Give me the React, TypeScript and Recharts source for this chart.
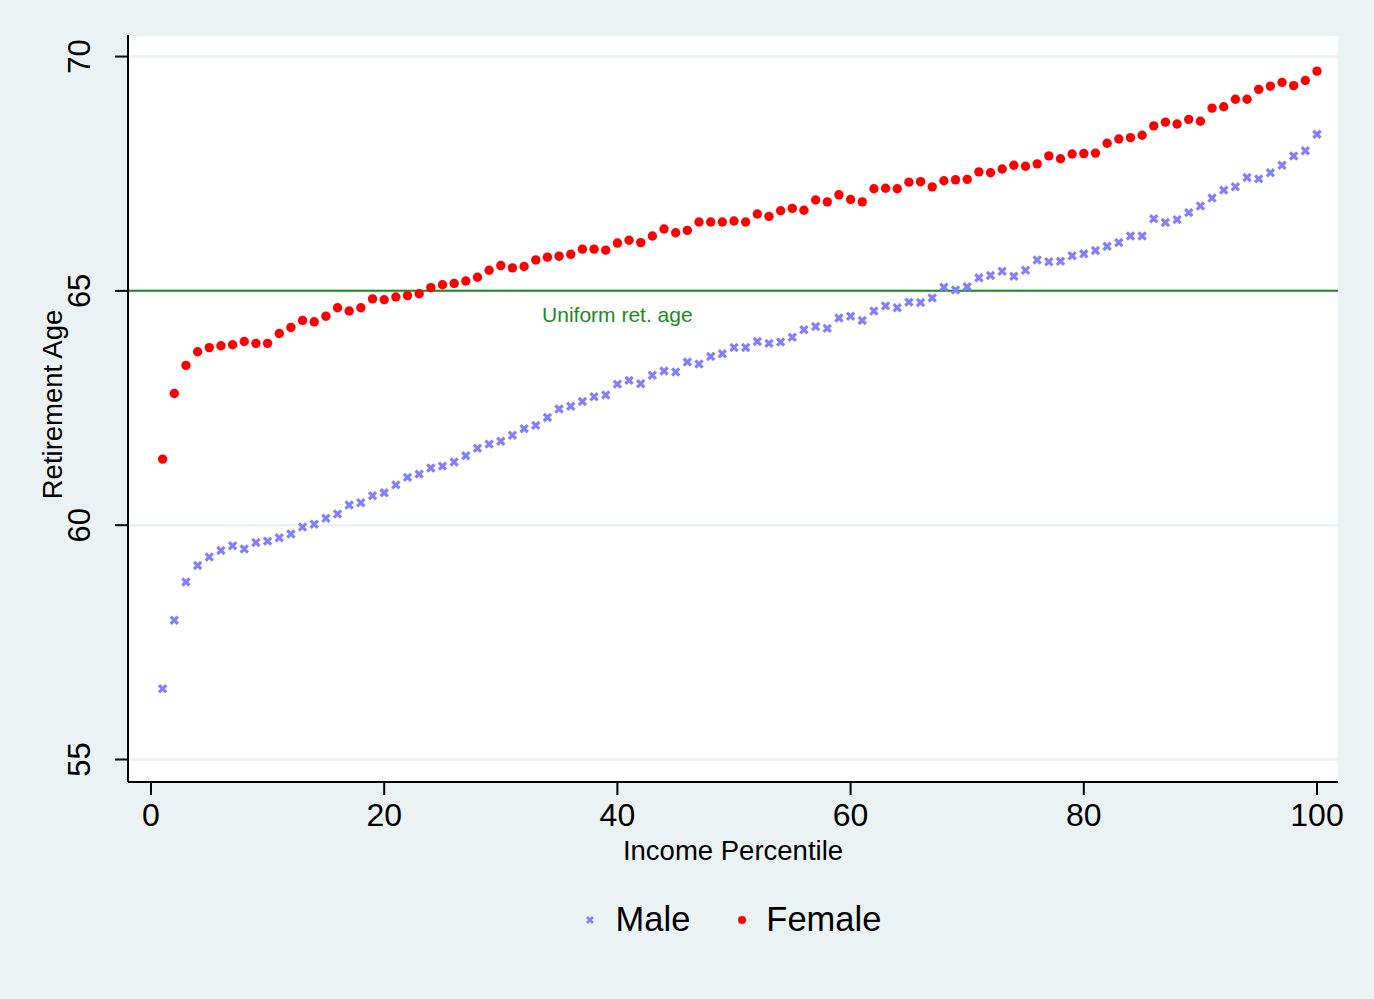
import {
  ScatterChart,
  Scatter,
  XAxis,
  YAxis,
  CartesianGrid,
  ReferenceLine,
  ReferenceDot,
  Label,
} from "recharts";

const FONT = '"Liberation Sans", Arial, Helvetica, sans-serif';
const BG = "#eaf2f3";
const MALE_COLOR = "#8080ff";
const FEMALE_COLOR = "#ff0000";
const LINE_GREEN = "#1a8a1a";

const percentiles = [
  1, 2, 3, 4, 5, 6, 7, 8, 9, 10, 11, 12, 13, 14, 15, 16, 17, 18, 19, 20,
  21, 22, 23, 24, 25, 26, 27, 28, 29, 30, 31, 32, 33, 34, 35, 36, 37, 38, 39, 40,
  41, 42, 43, 44, 45, 46, 47, 48, 49, 50, 51, 52, 53, 54, 55, 56, 57, 58, 59, 60,
  61, 62, 63, 64, 65, 66, 67, 68, 69, 70, 71, 72, 73, 74, 75, 76, 77, 78, 79, 80,
  81, 82, 83, 84, 85, 86, 87, 88, 89, 90, 91, 92, 93, 94, 95, 96, 97, 98, 99, 100,
];

const maleAge = [
  56.51, 57.97, 58.79, 59.14, 59.32, 59.46, 59.56, 59.49, 59.63, 59.66,
  59.73, 59.81, 59.96, 60.02, 60.15, 60.24, 60.43, 60.48, 60.63, 60.69,
  60.86, 61.02, 61.09, 61.22, 61.26, 61.35, 61.48, 61.64, 61.73, 61.79,
  61.92, 62.06, 62.13, 62.3, 62.48, 62.54, 62.64, 62.74, 62.78, 63.01,
  63.09, 63.02, 63.2, 63.29, 63.27, 63.48, 63.44, 63.6, 63.66, 63.79,
  63.79, 63.92, 63.88, 63.91, 64.01, 64.17, 64.24, 64.2, 64.42, 64.46,
  64.37, 64.57, 64.68, 64.64, 64.76, 64.75, 64.85, 65.08, 65.02, 65.09,
  65.28, 65.33, 65.42, 65.31, 65.44, 65.66, 65.62, 65.63, 65.75, 65.79,
  65.86, 65.95, 66.03, 66.17, 66.17, 66.54, 66.46, 66.52, 66.67, 66.81,
  66.98, 67.15, 67.22, 67.42, 67.39, 67.52, 67.68, 67.88, 67.99, 68.34,
];

const femaleAge = [
  61.41, 62.81, 63.41, 63.7, 63.79, 63.83, 63.85, 63.92, 63.88, 63.88,
  64.09, 64.22, 64.37, 64.34, 64.46, 64.64, 64.57, 64.64, 64.83, 64.81,
  64.87, 64.9, 64.94, 65.07, 65.13, 65.16, 65.21, 65.29, 65.44, 65.54,
  65.49, 65.52, 65.66, 65.72, 65.74, 65.78, 65.89, 65.89, 65.87, 66.02,
  66.08, 66.03, 66.17, 66.32, 66.24, 66.29, 66.47, 66.47, 66.47, 66.49,
  66.47, 66.64, 66.59, 66.71, 66.76, 66.72, 66.94, 66.9, 67.05, 66.95,
  66.9, 67.18, 67.19, 67.18, 67.32, 67.33, 67.22, 67.35, 67.37, 67.38,
  67.54, 67.52, 67.6, 67.68, 67.66, 67.71, 67.88, 67.82, 67.92, 67.93,
  67.94, 68.15, 68.24, 68.27, 68.32, 68.52, 68.6, 68.56, 68.66, 68.62,
  68.9, 68.93, 69.09, 69.09, 69.3, 69.37, 69.45, 69.38, 69.49, 69.69,
];

const xTicks = [0, 20, 40, 60, 80, 100];
const yTicks = [55, 60, 65, 70];
const uniformAge = 65;

const maleData = percentiles.map((p, i) => ({ x: p, y: maleAge[i] }));
const femaleData = percentiles.map((p, i) => ({ x: p, y: femaleAge[i] }));

function CrossShape(props: any) {
  const { cx, cy } = props;
  const d = 3.6;
  return (
    <path
      d={`M${cx - d},${cy - d}L${cx + d},${cy + d}M${cx + d},${cy - d}L${cx - d},${cy + d}`}
      stroke={MALE_COLOR}
      strokeWidth={3.2}
      fill="none"
    />
  );
}

function DotShape(props: any) {
  const { cx, cy } = props;
  return <circle cx={cx} cy={cy} r={4.7} fill={FEMALE_COLOR} />;
}

function YTick(props: any) {
  const { x, y, payload } = props;
  return (
    <text
      x={x}
      y={y}
      transform={`rotate(-90 ${x} ${y})`}
      textAnchor="middle"
      fontSize={31}
      fontFamily={FONT}
      fill="#000"
    >
      {payload.value}
    </text>
  );
}

function YTitle(props: any) {
  const { viewBox } = props;
  const x = viewBox.x + 62;
  const y = viewBox.y + viewBox.height / 2 - 4;
  return (
    <text
      x={x}
      y={y}
      transform={`rotate(-90 ${x} ${y})`}
      textAnchor="middle"
      fontSize={27.5}
      fontFamily={FONT}
      fill="#000"
    >
      Retirement Age
    </text>
  );
}

export default function App() {
  return (
    <div
      style={{
        position: "absolute",
        left: 0,
        top: 0,
        width: 1374,
        height: 999,
        background: BG,
        fontFamily: FONT,
      }}
    >
      <ScatterChart
        width={1374}
        height={999}
        margin={{ top: 35, right: 36, bottom: 117, left: 0 }}
      >
        <CartesianGrid
          horizontal
          vertical={false}
          fill="#ffffff"
          stroke={BG}
          strokeWidth={2.5}
        />
        <XAxis
          type="number"
          dataKey="x"
          domain={[-1.97, 101.8]}
          ticks={xTicks}
          allowDataOverflow
          height={100}
          axisLine={{ stroke: "#000", strokeWidth: 2 }}
          tickLine={{ stroke: "#000", strokeWidth: 2 }}
          tickSize={13}
          tickMargin={8}
          tick={{ fontSize: 32, fill: "#000", fontFamily: FONT }}
        >
          <Label
            value="Income Percentile"
            position="insideBottom"
            offset={22}
            style={{ fontSize: 27.5, fill: "#000", fontFamily: FONT }}
          />
        </XAxis>
        <YAxis
          type="number"
          dataKey="y"
          domain={[54.52, 70.46]}
          ticks={yTicks}
          allowDataOverflow
          width={128}
          axisLine={{ stroke: "#000", strokeWidth: 2 }}
          tickLine={{ stroke: "#000", strokeWidth: 2 }}
          tickSize={13}
          tickMargin={25}
          tick={<YTick />}
        >
          <Label content={<YTitle />} />
        </YAxis>
        <ReferenceLine y={uniformAge} stroke={LINE_GREEN} strokeWidth={2} />
        <ReferenceDot
          x={40}
          y={uniformAge}
          r={0}
          fill="none"
          stroke="none"
          label={{
            value: "Uniform ret. age",
            position: "bottom",
            offset: 16,
            fill: LINE_GREEN,
            fontSize: 21,
            fontFamily: FONT,
          }}
        />
        <Scatter
          name="Male"
          data={maleData}
          shape={<CrossShape />}
          isAnimationActive={false}
        />
        <Scatter
          name="Female"
          data={femaleData}
          shape={<DotShape />}
          isAnimationActive={false}
        />
      </ScatterChart>
      <div
        style={{
          position: "absolute",
          left: 128,
          width: 1210,
          top: 902,
          height: 35,
          display: "flex",
          justifyContent: "center",
          alignItems: "center",
          fontSize: 34.5,
          lineHeight: "35px",
          color: "#000",
        }}
      >
        <svg width={10} height={10} style={{ marginRight: 21 }}>
          <path d="M2,2L8,8M8,2L2,8" stroke={MALE_COLOR} strokeWidth={2.6} />
        </svg>
        <span style={{ marginRight: 47 }}>Male</span>
        <svg width={10} height={10} style={{ marginRight: 19 }}>
          <circle cx={5} cy={5} r={4} fill={FEMALE_COLOR} />
        </svg>
        <span>Female</span>
      </div>
    </div>
  );
}
